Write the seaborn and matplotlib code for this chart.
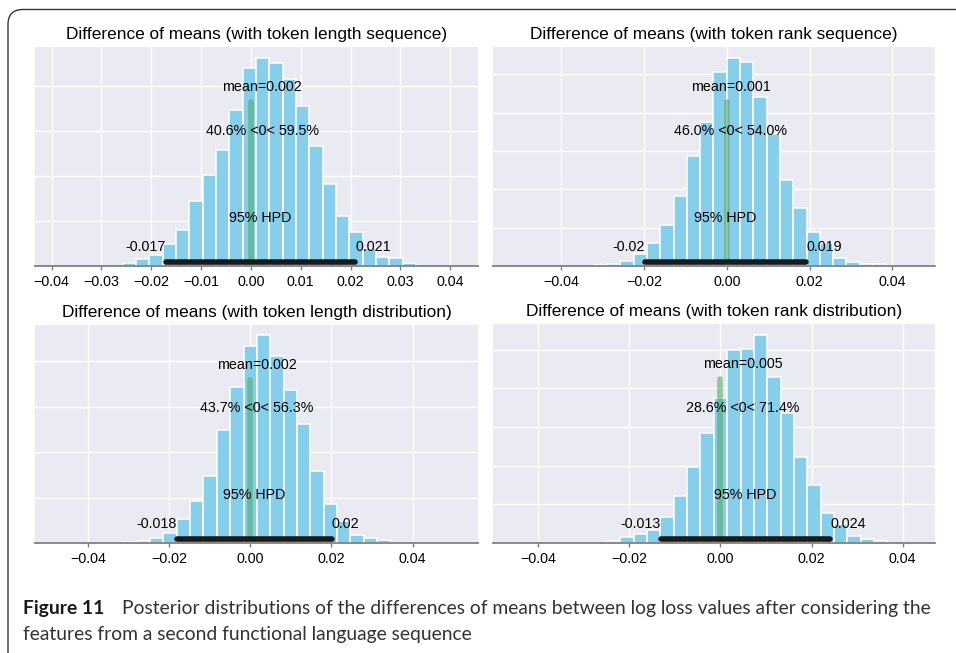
import numpy as np
import pandas as pd
import matplotlib
matplotlib.use("Agg")
import matplotlib.pyplot as plt
from matplotlib.patches import FancyBboxPatch
from matplotlib.ticker import MultipleLocator, NullFormatter
import seaborn as sns

# ---- posterior samples summarised as histograms (one per feature set) ----
titles = [
    "Difference of means (with token length sequence)",
    "Difference of means (with token rank sequence)",
    "Difference of means (with token length distribution)",
    "Difference of means (with token rank distribution)",
]

# left edge of the first bin and bin width
bin_lo = [-0.02577, -0.03213, -0.03124, -0.0249]
bin_w = [0.002677, 0.003212, 0.003288, 0.00293]

counts_len_seq = [0.067, 0.156, 0.245, 0.491, 0.788, 1.435, 2.030, 2.565, 3.457, 4.394, 4.617,
                  4.506, 4.156, 3.561, 2.654, 1.822, 1.108, 0.751, 0.409, 0.201, 0.171, 0.067]
counts_rank_seq = [0.020, 0.052, 0.130, 0.304, 0.600, 1.061, 1.835, 2.861, 3.748, 5.052, 5.417,
                   5.330, 4.400, 3.452, 2.243, 1.522, 0.878, 0.591, 0.209, 0.096, 0.052, 0.061]
counts_len_dist = [0.022, 0.052, 0.111, 0.214, 0.524, 0.923, 1.483, 2.487, 3.424, 4.332, 4.590,
                   4.125, 3.358, 2.620, 1.587, 0.849, 0.494, 0.177, 0.111, 0.059]
counts_rank_dist = [0.052, 0.147, 0.233, 0.345, 0.672, 1.207, 1.966, 2.845, 3.759, 4.983, 5.017,
                    5.371, 4.293, 3.371, 2.224, 1.491, 0.776, 0.500, 0.172, 0.095, 0.060]
counts = [counts_len_seq, counts_rank_seq, counts_len_dist, counts_rank_dist]

means = [0.0023, 0.0009, 0.0016, 0.0049]
hpd_lo = [-0.0171, -0.0198, -0.0181, -0.0131]
hpd_hi = [0.0210, 0.0192, 0.0201, 0.0241]
pct_below = [40.6, 46.0, 43.7, 28.6]
pct_above = [59.5, 54.0, 56.3, 71.4]
ref_val = 0

x_limits = [(-0.04335, 0.0456), (-0.0565, 0.0503), (-0.053, 0.0561), (-0.04995, 0.0471)]
y_tops = [4.86, 5.71, 4.80, 5.66]
x_steps = [0.01, 0.02, 0.02, 0.02]

# ---- style ----
sns.set_theme(style="darkgrid")
plt.rcParams["font.family"] = ["Liberation Sans", "DejaVu Sans"]
plt.rcParams["text.color"] = "black"
plt.rcParams["axes.titlecolor"] = "black"
plt.rcParams["xtick.labelcolor"] = "black"

W, H = 956, 653
fig = plt.figure(figsize=(W / 100, H / 100), dpi=100)

# axes boxes in pixels: left, right, top, bottom
boxes = [(35, 478, 47, 266), (493, 935, 47, 266), (35, 478, 325, 543), (493, 935, 324, 543)]

TXT = 10.3
for i in range(4):
    l, r, t, b = boxes[i]
    ax = fig.add_axes([l / W, 1 - b / H, (r - l) / W, (b - t) / H])

    n = len(counts[i])
    lo = bin_lo[i]
    hi = bin_lo[i] + bin_w[i] * n
    centers = lo + bin_w[i] * (np.arange(n) + 0.5)
    df = pd.DataFrame({"diff": centers, "count": counts[i]})
    sns.histplot(data=df, x="diff", weights="count", binwidth=bin_w[i], binrange=(lo, hi),
                 ax=ax, color="#87ceeb", edgecolor="white", linewidth=1.1, alpha=1.0)

    ax.set_xlim(*x_limits[i])
    ax.set_ylim(0, y_tops[i])
    top = y_tops[i]

    # reference value
    ax.axvline(ref_val, ymin=0.02, ymax=0.75, color="g", linewidth=4, alpha=0.6,
               solid_capstyle="round")
    ax.text(means[i], top * 0.6, f"{pct_below[i]:.1f}% <{ref_val:g}< {pct_above[i]:.1f}%",
            size=TXT, ha="center")

    # point estimate
    ax.text(means[i], top * 0.8, f"mean={means[i]:.3f}", size=TXT, ha="center")

    # highest posterior density interval
    ax.plot([hpd_lo[i], hpd_hi[i]], [top * 0.02, top * 0.02], linewidth=4, color="k",
            solid_capstyle="round")
    ax.text(hpd_lo[i], top * 0.07, str(round(hpd_lo[i], 3)), size=TXT, ha="right")
    ax.text(hpd_hi[i], top * 0.07, str(round(hpd_hi[i], 3)), size=TXT, ha="left")
    ax.text((hpd_lo[i] + hpd_hi[i]) / 2, top * 0.2, "95% HPD", size=TXT, ha="center")

    ax.set_title(titles[i], fontsize=12.4, pad=6)
    ax.set_xlabel("")
    ax.set_ylabel("")
    ax.xaxis.set_major_locator(MultipleLocator(x_steps[i]))
    ax.yaxis.set_major_locator(MultipleLocator(1))
    ax.yaxis.set_major_formatter(NullFormatter())
    ax.tick_params(axis="y", length=0)
    ax.tick_params(axis="x", direction="out", width=1, length=3, color="0.5",
                   labelsize=10.3, pad=3.5, bottom=True)
    for s in ["top", "right", "left"]:
        ax.spines[s].set_visible(False)
    ax.spines["bottom"].set_visible(True)
    ax.spines["bottom"].set_color("0.5")
    ax.spines["bottom"].set_linewidth(1.3)

# ---- figure frame and caption ----
frame = FancyBboxPatch((0.08, -0.5), 10.0, 6.935,
                       boxstyle="round,pad=0,rounding_size=0.15",
                       transform=fig.dpi_scale_trans, fill=False,
                       edgecolor="#333333", linewidth=1.0)
fig.patches.append(frame)

cap_font = ["Lato", "DejaVu Sans"]
cap_size = 13.9
fig.text(23 / W, 1 - 614 / H, "Figure 11", family=cap_font, fontweight="bold",
         fontsize=cap_size, color="#1a1a1a", va="baseline")
fig.text(121.5 / W, 1 - 614 / H,
         "Posterior distributions of the differences of means between log loss values "
         "after considering the",
         family=cap_font, fontsize=cap_size, color="#333333", va="baseline")
fig.text(23 / W, 1 - 640 / H, "features from a second functional language sequence",
         family=cap_font, fontsize=cap_size, color="#333333", va="baseline")

fig.savefig("out.png", dpi=100)
